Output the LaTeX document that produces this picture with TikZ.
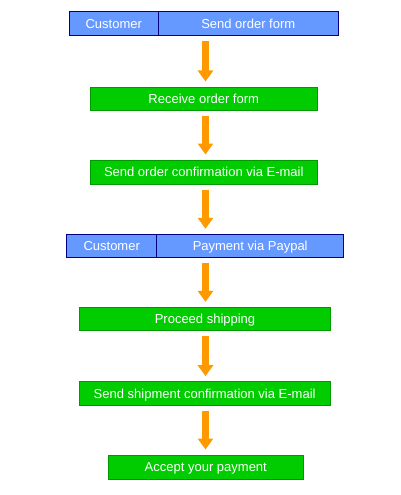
\documentclass[tikz,border=0pt]{standalone}
\usepackage{fontspec}
\setmainfont{Liberation Sans}
\usetikzlibrary{arrows.meta}
\definecolor{bluefill}{HTML}{6699FF}
\definecolor{blueline}{HTML}{000080}
\definecolor{greenfill}{HTML}{00CC00}
\definecolor{greenline}{HTML}{009900}
\definecolor{arroworange}{HTML}{FF9900}
\tikzset{
  base/.style={inner sep=0pt, line width=1pt, text=white, font=\fontsize{13}{15}\selectfont, text height=9.3pt, text depth=0pt, anchor=center},
  bluebox/.style={base, draw=blueline, fill=bluefill},
  greenbox/.style={base, draw=greenline, fill=greenfill},
  flowarrow/.style={draw=arroworange, line width=7pt, -{Triangle[length=11pt,width=15pt]}, shorten <=5pt, shorten >=5pt},
}
\begin{document}
\begin{tikzpicture}[x=1pt,y=-1pt]
\useasboundingbox (0,0) rectangle (400,495);
\coordinate (ax) at (205.5,0);
% row 1
\node[bluebox, minimum width=89.5pt, minimum height=24pt] (c1) at (113.75,24) {Customer};
\node[bluebox, minimum width=179.5pt, minimum height=24pt] (s1) at (248.25,24) {Send order form};
% box 2
\node[greenbox, minimum width=227.5pt, minimum height=23.5pt] (b2) at (203.75,98.75) {Receive order form};
% box 3
\node[greenbox, minimum width=227.5pt, minimum height=24pt] (b3) at (203.75,172) {Send order confirmation via E-mail};
% row 4
\node[bluebox, minimum width=90pt, minimum height=23pt] (c4) at (111.7,245.8) {Customer};
\node[bluebox, minimum width=187pt, minimum height=23pt] (s4) at (250.2,245.8) {Payment via Paypal};
% box 5
\node[greenbox, minimum width=251.4pt, minimum height=23.2pt] (b5) at (205,319) {Proceed shipping};
% box 6
\node[greenbox, minimum width=251.3pt, minimum height=23.6pt] (b6) at (204.65,393.5) {Send shipment confirmation via E-mail};
% box 7
\node[greenbox, minimum width=195pt, minimum height=24pt] (b7) at (205.8,467) {Accept your payment};
% arrows
\draw[flowarrow] (s1.south -| ax) -- (b2.north -| ax);
\draw[flowarrow] (b2.south -| ax) -- (b3.north -| ax);
\draw[flowarrow] (b3.south -| ax) -- (s4.north -| ax);
\draw[flowarrow] (s4.south -| ax) -- (b5.north -| ax);
\draw[flowarrow] (b5.south -| ax) -- (b6.north -| ax);
\draw[flowarrow] (b6.south -| ax) -- (b7.north -| ax);
\end{tikzpicture}
\end{document}
